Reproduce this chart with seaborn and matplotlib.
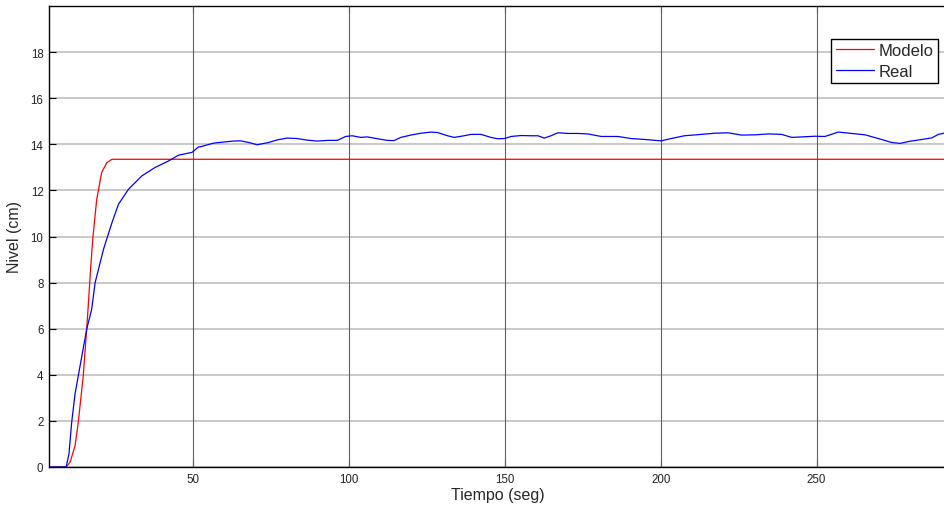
import matplotlib
matplotlib.use("Agg")
import matplotlib.pyplot as plt
import seaborn as sns
import pandas as pd

# ---- data ----
modelo_t = [3.7, 9.2, 10.45, 12.06, 13.1, 14.7, 15.8, 16.3, 17.0, 17.75, 19.0,
            20.6, 22.25, 23.9, 291.5]
modelo_y = [0.0, 0.0, 0.2, 0.92, 1.95, 3.96, 6.0, 7.0, 8.5, 9.9, 11.6,
            12.78, 13.2, 13.35, 13.35]

real_t = [3.7, 9.2, 10.1, 10.98, 12.06, 13.1, 15.8, 17.4, 18.5, 21.2, 23.9, 26.0,
          29.2, 33.5, 37.8, 42.1, 45.3, 49.6, 51.6,
          52.2, 56.5, 59.8, 62.9, 65.1, 67.8, 70.5, 74.2, 76.9, 80.1, 83.3, 86.6,
          89.8, 93.0, 96.2, 98.9, 101.0, 103.7, 105.9, 109.1, 112.3, 114.4, 116.6,
          119.8, 123.0, 126.2, 128.4, 131.6, 133.7, 136.9, 139.1, 142.3, 145.5,
          147.7, 149.8, 152.0, 155.2, 158.4, 160.6, 162.6, 164.8, 167.0, 170.2,
          173.4, 176.6, 180.9, 186.2, 190.5, 194.8, 200.1, 203.4, 207.6, 213.0,
          217.3, 221.6, 225.9, 230.2, 234.5, 238.8, 242.0, 245.2, 249.5, 252.7,
          257.0, 261.3, 265.6, 269.8, 274.1, 276.8, 279.5, 283.8, 287.0, 289.1, 291.5]
real_y = [0.0, 0.0, 0.56, 1.94, 3.17, 3.96, 5.98, 6.85, 8.0, 9.45, 10.6, 11.4,
          12.05, 12.63, 13.0, 13.28, 13.53, 13.65, 13.88,
          13.89, 14.05, 14.10, 14.14, 14.15, 14.08, 13.98, 14.08, 14.19, 14.27, 14.25, 14.18,
          14.14, 14.17, 14.17, 14.34, 14.37, 14.30, 14.32, 14.24, 14.17, 14.16, 14.30,
          14.40, 14.48, 14.53, 14.51, 14.37, 14.30, 14.37, 14.43, 14.43, 14.30,
          14.24, 14.25, 14.34, 14.38, 14.37, 14.37, 14.27, 14.37, 14.50, 14.47,
          14.47, 14.45, 14.34, 14.34, 14.25, 14.21, 14.15, 14.25, 14.37, 14.43,
          14.48, 14.50, 14.40, 14.41, 14.45, 14.43, 14.30, 14.32, 14.35, 14.34,
          14.53, 14.47, 14.41, 14.25, 14.08, 14.04, 14.12, 14.21, 14.28, 14.43, 14.50]

x_ticks = [50, 100, 150, 200, 250]
y_ticks = [0, 2, 4, 6, 8, 10, 12, 14, 16, 18]
x_label = "Tiempo (seg)"
y_label = "Nivel (cm)"
series_names = ["Modelo", "Real"]

sns.set_style("white")
plt.rcParams['font.family'] = ['Liberation Sans', 'DejaVu Sans']

df_m = pd.DataFrame({"t": modelo_t, "y": modelo_y})
df_r = pd.DataFrame({"t": real_t, "y": real_y})

fig = plt.figure(figsize=(9.44, 5.06), dpi=100)
ax = fig.add_axes([49 / 944, 1 - 468 / 506, 1.0 - 49 / 944 + 0.002, (468 - 7) / 506])

sns.lineplot(data=df_m, x="t", y="y", ax=ax, color="#ff0000", lw=0.9,
             sort=False, estimator=None, label=series_names[0])
sns.lineplot(data=df_r, x="t", y="y", ax=ax, color="#0000ff", lw=0.9,
             sort=False, estimator=None, label=series_names[1])

ax.set_xlim(3.7, 291.5)
ax.set_ylim(0, 20)
ax.set_xticks(x_ticks)
ax.set_yticks(y_ticks)

ax.grid(False)
for yv in y_ticks:
    ax.axhline(yv, color="#c4c4c4", lw=1.3, zorder=0.5)
for xv in x_ticks:
    ax.axvline(xv, color="#606060", lw=0.8, zorder=0.6)

for s in ["left", "bottom", "top"]:
    ax.spines[s].set_color("black")
    ax.spines[s].set_linewidth(1.0)
ax.spines["right"].set_visible(False)

ax.tick_params(axis="both", direction="in", length=5, width=0.8, color="black",
               labelsize=8.3, labelcolor="#222222", top=True, bottom=True,
               left=True, right=False, pad=4)

ax.set_xlabel(x_label, fontsize=11.5, labelpad=2)
ax.set_ylabel(y_label, fontsize=11.5, labelpad=6)

leg = ax.legend(loc="upper right", bbox_to_anchor=(938 / 944, 1 - 40 / 506),
                bbox_transform=fig.transFigure, borderaxespad=0,
                fontsize=12, frameon=True, fancybox=False, framealpha=1,
                edgecolor="black", handlelength=2.3, handletextpad=0.3,
                labelspacing=0.35, borderpad=0.25)
leg.get_frame().set_linewidth(1.0)

fig.savefig("out.png", dpi=100)
